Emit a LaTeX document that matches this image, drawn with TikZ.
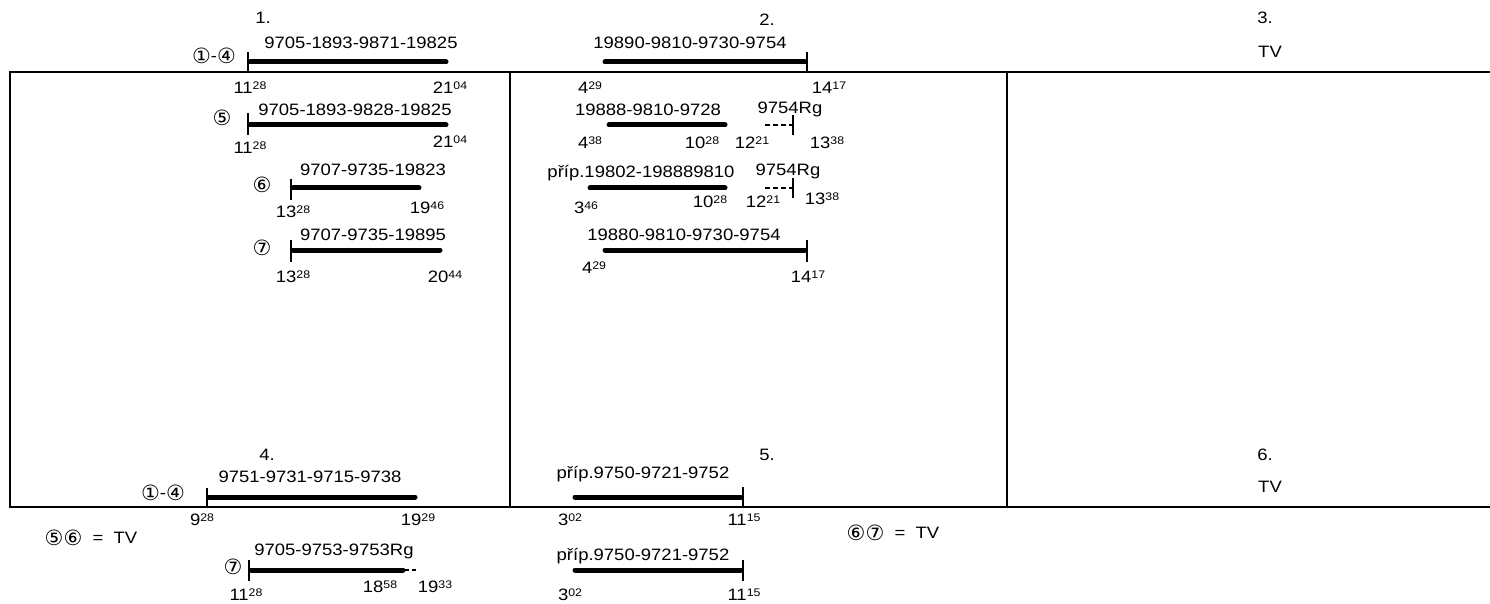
\documentclass[tikz,border=0pt]{standalone}
\usepackage{fontspec}
\setmainfont{Liberation Sans}[FakeStretch=1.12]
\newfontfamily\symf{DejaVu Sans}
\newcommand\fs{\fontsize{16.5}{19}\selectfont}
\newcommand\tm[2]{#1\raisebox{4.5pt}{\fontsize{11}{11}\selectfont #2}}
\newcommand\cn[1]{\raisebox{-1.5pt}{\fontsize{21}{21}\symf #1}}
\begin{document}
\begin{tikzpicture}[x=1pt,y=-1pt,
  lbl/.style={inner sep=0pt, text height=11.7pt, text depth=0pt, font=\fs},
  bar/.style={line width=5pt, line cap=round},
  tickl/.style={line width=1.6pt},
  frame/.style={line width=2pt},
  dsh/.style={line width=1.5pt, dash pattern=on 5pt off 3pt},
  dshs/.style={line width=1.5pt, dash pattern=on 4pt off 3pt}]
\useasboundingbox (0,0) rectangle (1490,604);
% frame
\draw[frame] (1490,72) -- (10,72) -- (10,507) -- (1490,507);
\draw[frame] (510,72) -- (510,507);
\draw[frame] (1007,72) -- (1007,507);

% ---------- panel 1
\node[lbl] (p1) at (263,18) {1.};
\node[lbl] (c1) at (214,56) {\cn{①}-\cn{④}};
\node[lbl] (l1) at (361,43) {9705-1893-9871-19825};
\draw[bar] (250,62) -- (446,62);
\draw[tickl] (248,52) -- (248,73);
\node[lbl] (a1) at (250,88) {\tm{11}{28}};
\node[lbl] (a2) at (450,88) {\tm{21}{04}};

\node[lbl] (l2) at (355,110) {9705-1893-9828-19825};
\node[lbl] (c5) at (222,118) {\cn{⑤}};
\draw[bar] (250,125) -- (446,125);
\draw[tickl] (248,113) -- (248,135);
\node[lbl] (b1) at (450,142) {\tm{21}{04}};
\node[lbl] (b2) at (250,148) {\tm{11}{28}};

\node[lbl] (l3) at (373,170) {9707-9735-19823};
\node[lbl] (c6) at (262,185) {\cn{⑥}};
\draw[bar] (293,188) -- (419,188);
\draw[tickl] (291,179) -- (291,200);
\node[lbl] (d1) at (427,208) {\tm{19}{46}};
\node[lbl] (d2) at (293,212) {\tm{13}{28}};

\node[lbl] (l4) at (373,235) {9707-9735-19895};
\node[lbl] (c7) at (262,248) {\cn{⑦}};
\draw[bar] (293,250) -- (440,250);
\draw[tickl] (291,240) -- (291,262);
\node[lbl] (e1) at (445,277) {\tm{20}{44}};
\node[lbl] (e2) at (293,277) {\tm{13}{28}};

% ---------- panel 2
\node[lbl] (p2) at (767,20) {2.};
\node[lbl] (m1) at (690,43) {19890-9810-9730-9754};
\draw[bar] (605,62) -- (805,62);
\draw[tickl] (807,52) -- (807,73);
\node[lbl] (f1) at (590,88) {\tm{4}{29}};
\node[lbl] (f2) at (829,88) {\tm{14}{17}};

\node[lbl] (m2) at (648,110) {19888-9810-9728};
\draw[bar] (609,125) -- (725,125);
\node[lbl] (r1) at (790,108) {9754Rg};
\draw[dsh] (765,125) -- (793,125);
\draw[tickl] (793,115) -- (793,135);
\node[lbl] (g1) at (590,143) {\tm{4}{38}};
\node[lbl] (g2) at (702,143) {\tm{10}{28}};
\node[lbl] (g3) at (752,143) {\tm{12}{21}};
\node[lbl] (g4) at (827,143) {\tm{13}{38}};

\node[lbl] (m3) at (641,172) {příp.19802-198889810};
\draw[bar] (590,188) -- (725,188);
\node[lbl] (r2) at (788,170) {9754Rg};
\draw[dsh] (765,188) -- (793,188);
\draw[tickl] (793,178) -- (793,198);
\node[lbl] (h1) at (586,208) {\tm{3}{46}};
\node[lbl] (h2) at (710,202) {\tm{10}{28}};
\node[lbl] (h3) at (763,202) {\tm{12}{21}};
\node[lbl] (h4) at (822,199) {\tm{13}{38}};

\node[lbl] (m4) at (684,235) {19880-9810-9730-9754};
\draw[bar] (605,250) -- (805,250);
\draw[tickl] (807,240) -- (807,262);
\node[lbl] (k1) at (594,268) {\tm{4}{29}};
\node[lbl] (k2) at (808,277) {\tm{14}{17}};

% ---------- panel 3
\node[lbl] (p3) at (1265,18) {3.};
\node[lbl] (tv3) at (1270,52) {TV};

% ---------- panel 4
\node[lbl] (p4) at (267,455) {4.};
\node[lbl] (q1) at (310,477) {9751-9731-9715-9738};
\node[lbl] (c14b) at (163,493) {\cn{①}-\cn{④}};
\draw[bar] (209,497) -- (415,497);
\draw[tickl] (207,488) -- (207,508);
\node[lbl] (s1) at (202,520) {\tm{9}{28}};
\node[lbl] (s2) at (418,520) {\tm{19}{29}};
\node[lbl] (tv56) at (91,538) {\cn{⑤⑥}\ \ =\ \ TV};
\node[lbl] (q2) at (334,550) {9705-9753-9753Rg};
\node[lbl] (c7b) at (233,567) {\cn{⑦}};
\draw[bar] (251,570) -- (403,570);
\draw[dshs] (405,570) -- (418,570);
\draw[tickl] (249,560) -- (249,581);
\node[lbl] (u1) at (380,587) {\tm{18}{58}};
\node[lbl] (u2) at (435,587) {\tm{19}{33}};
\node[lbl] (u3) at (246,595) {\tm{11}{28}};

% ---------- panel 5
\node[lbl] (p5) at (767,455) {5.};
\node[lbl] (w1) at (643,473) {příp.9750-9721-9752};
\draw[bar] (575,497) -- (741,497);
\draw[tickl] (743,487) -- (743,508);
\node[lbl] (v1) at (570,520) {\tm{3}{02}};
\node[lbl] (v2) at (744,520) {\tm{11}{15}};
\node[lbl] (tv67) at (893,533) {\cn{⑥⑦}\ \ =\ \ TV};
\node[lbl] (w2) at (643,555) {příp.9750-9721-9752};
\draw[bar] (575,570) -- (741,570);
\draw[tickl] (743,560) -- (743,581);
\node[lbl] (x1) at (570,595) {\tm{3}{02}};
\node[lbl] (x2) at (744,595) {\tm{11}{15}};

% ---------- panel 6
\node[lbl] (p6) at (1265,455) {6.};
\node[lbl] (tv6) at (1270,487) {TV};
\end{tikzpicture}
\end{document}
